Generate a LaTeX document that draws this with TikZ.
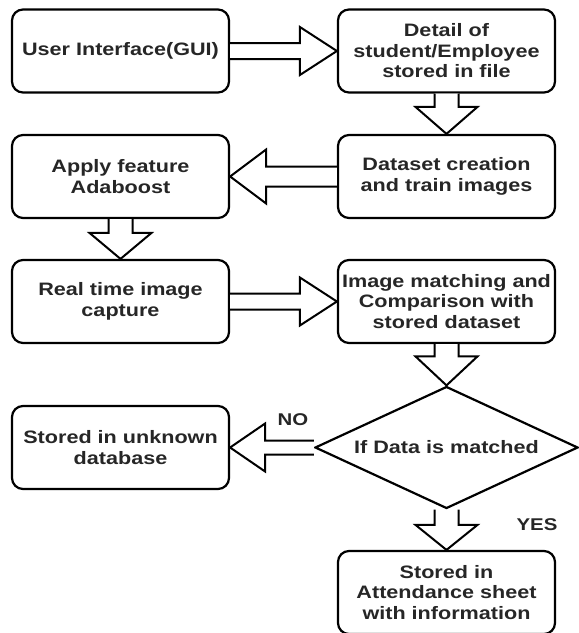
\documentclass[tikz,border=0pt]{standalone}
\usepackage{fontspec}
\setmainfont{Liberation Sans}[FakeStretch=1.2]
\usetikzlibrary{shapes.geometric,calc}
\newcommand{\labfont}{\fontsize{18}{20.5}\selectfont\bfseries}
\newcommand{\BArrowRight}[5]{%
  \path[barrow] let \p1=(#1), \p2=(#2) in
    (\x1,\y1+#3) -- (\x2-#5,\y1+#3) -- (\x2-#5,\y1+#4) -- (\x2,\y1)
    -- (\x2-#5,\y1-#4) -- (\x2-#5,\y1-#3) -- (\x1,\y1-#3);}
\newcommand{\BArrowLeft}[5]{%
  \path[barrow] let \p1=(#1), \p2=(#2) in
    (\x1,\y1+#3) -- (\x2+#5,\y1+#3) -- (\x2+#5,\y1+#4) -- (\x2,\y1)
    -- (\x2+#5,\y1-#4) -- (\x2+#5,\y1-#3) -- (\x1,\y1-#3);}
\newcommand{\BArrowDown}[5]{%
  \path[barrow] let \p1=(#1), \p2=(#2) in
    (\x1+#3,\y1) -- (\x1+#3,\y2+#5) -- (\x1+#4,\y2+#5) -- (\x1,\y2)
    -- (\x1-#4,\y2+#5) -- (\x1-#3,\y2+#5) -- (\x1-#3,\y1);}
\tikzset{
  box/.style={draw=black, rounded corners=11pt, line width=2.2pt,
    minimum width=217pt, minimum height=83pt, align=center, inner sep=0pt,
    font=\labfont, text=black!85},
  decision/.style={diamond, draw=black, line width=2.2pt, minimum width=263pt,
    minimum height=122pt, inner sep=0pt, shape aspect=2.15, font=\labfont, text=black!85},
  barrow/.style={draw=black, fill=white, line width=2pt, line join=miter},
  yesno/.style={font=\fontsize{17}{19}\selectfont\bfseries, text=black!85, inner sep=0pt}
}
\begin{document}
\begin{tikzpicture}[x=1pt,y=1pt]
\useasboundingbox (0,0) rectangle (579,-633);
\node[box] (b1) at (120.5,-51) {User Interface(GUI)};
\node[box] (b2) at (446.5,-51) {Detail of\\student/Employee\\stored in file};
\node[box] (b3) at (446.5,-176.5) {Dataset creation\\and train images};
\node[box] (b4) at (120.5,-176.5) {Apply feature\\Adaboost};
\node[box] (b5) at (120.5,-301.5) {Real time image\\capture};
\node[box] (b6) at (446.5,-301.5) {Image matching and\\Comparison with\\stored dataset};
\node[decision] (d) at (446.5,-447.5) {If Data is matched};
\node[box] (b7) at (120.5,-447.5) {Stored in unknown\\database};
\node[box] (b8) at (446.5,-592.5) {Stored in\\Attendance sheet\\with information};
\node[yesno] (no) at (293,-420) {NO};
\node[yesno] (yes) at (537,-525) {YES};
\BArrowRight{b1.east}{b2.west}{8pt}{24pt}{37pt}
\BArrowDown{b2.south}{b3.north}{12pt}{31pt}{27pt}
\BArrowLeft{b3.west}{b4.east}{10pt}{27pt}{36pt}
\BArrowDown{b4.south}{b5.north}{12pt}{31pt}{26pt}
\BArrowRight{b5.east}{b6.west}{8pt}{24pt}{37pt}
\BArrowDown{b6.south}{d.north}{12pt}{31pt}{29pt}
\BArrowLeft{d.west}{b7.east}{7pt}{24pt}{35pt}
\BArrowDown{d.south}{b8.north}{12pt}{31pt}{25pt}
\end{tikzpicture}
\end{document}
